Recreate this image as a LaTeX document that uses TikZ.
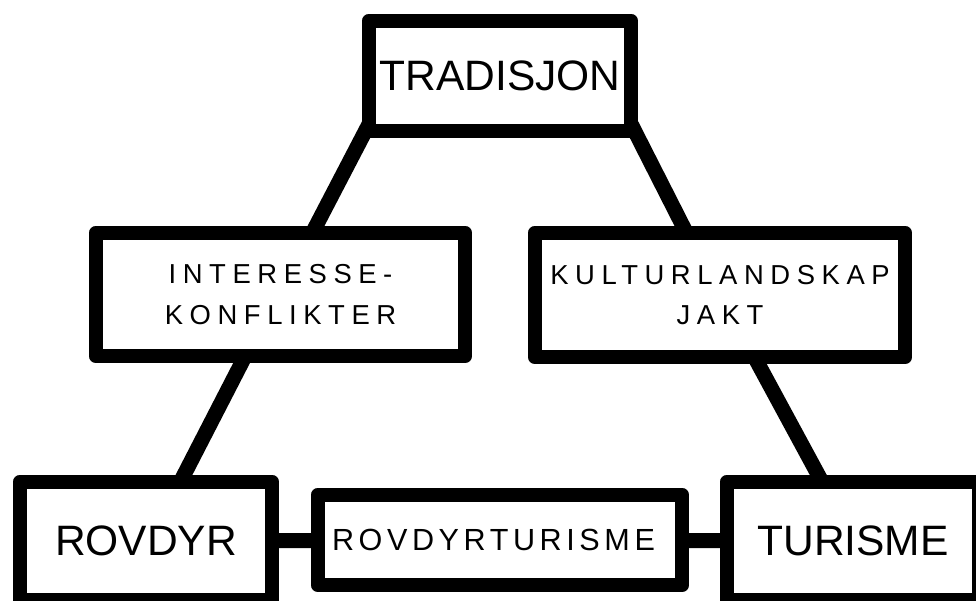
\documentclass[tikz,border=0pt]{standalone}
\usepackage{fontspec}
\setmainfont{Liberation Sans}
\newfontfamily\spacedwide[LetterSpace=24]{Liberation Sans}
\newfontfamily\spacednarrow[LetterSpace=15]{Liberation Sans}
\usetikzlibrary{calc, backgrounds}
\tikzset{
    thickblock/.style={
        rectangle,
        draw=black,
        fill=white,
        line width=8.5pt,
        line join=round,
        inner sep=0pt,
        align=center
    },
    bigtext/.style={
        font=\fontsize{24.2}{29}\selectfont
    },
    pairtext/.style={
        font=\spacedwide\fontsize{15.6}{23}\selectfont
    },
    thickline/.style={
        draw=black,
        line width=8.5pt,
        shorten <=-0.4cm,
        shorten >=-0.4cm
    }
}

\begin{document}
\begin{tikzpicture}
    \useasboundingbox (0,0) rectangle (19.52,-12.02);
    \clip (0,0) rectangle (19.52,-12.02);

    % Nodes
    \node[thickblock, bigtext, minimum width=5.24cm, minimum height=2.20cm] (trad) at (10.00,-1.52) {TRADISJON};

    \node[thickblock, pairtext, minimum width=7.38cm, minimum height=2.46cm] (konf) at (5.61,-5.89) {INTERESSE-\\KONFLIKTER};
    \node[thickblock, pairtext, minimum width=7.40cm, minimum height=2.48cm] (kultur) at (14.40,-5.90) {KULTURLANDSKAP\\JAKT};

    \node[thickblock, bigtext, minimum width=5.04cm, minimum height=2.36cm] (rovdyr) at (2.92,-10.82) {ROVDYR};
    \node[thickblock, font=\spacednarrow\fontsize{17.4}{21}\selectfont, minimum width=7.28cm, minimum height=1.80cm] (rtur) at (10.00,-10.80) {ROVDYRTURISME\hspace*{0.26cm}};
    \node[thickblock, bigtext, minimum width=5.04cm, minimum height=2.36cm] (turisme) at (17.06,-10.82) {TURISME};

    % Paths
    \begin{scope}[on background layer]
        \draw[thickline] (trad.south west) -- ($(konf.north west)!0.593!(konf.north east)$);
        \draw[thickline] (trad.south east) -- ($(kultur.north west)!0.403!(kultur.north east)$);

        \draw[thickline] ($(konf.south west)!0.398!(konf.south east)$) -- ($(rovdyr.north west)!0.643!(rovdyr.north east)$);
        \draw[thickline] ($(kultur.south west)!0.600!(kultur.south east)$) -- ($(turisme.north west)!0.369!(turisme.north east)$);

        \draw[thickline] (rovdyr) -- (rtur);
        \draw[thickline] (rtur) -- (turisme);
    \end{scope}

\end{tikzpicture}
\end{document}
